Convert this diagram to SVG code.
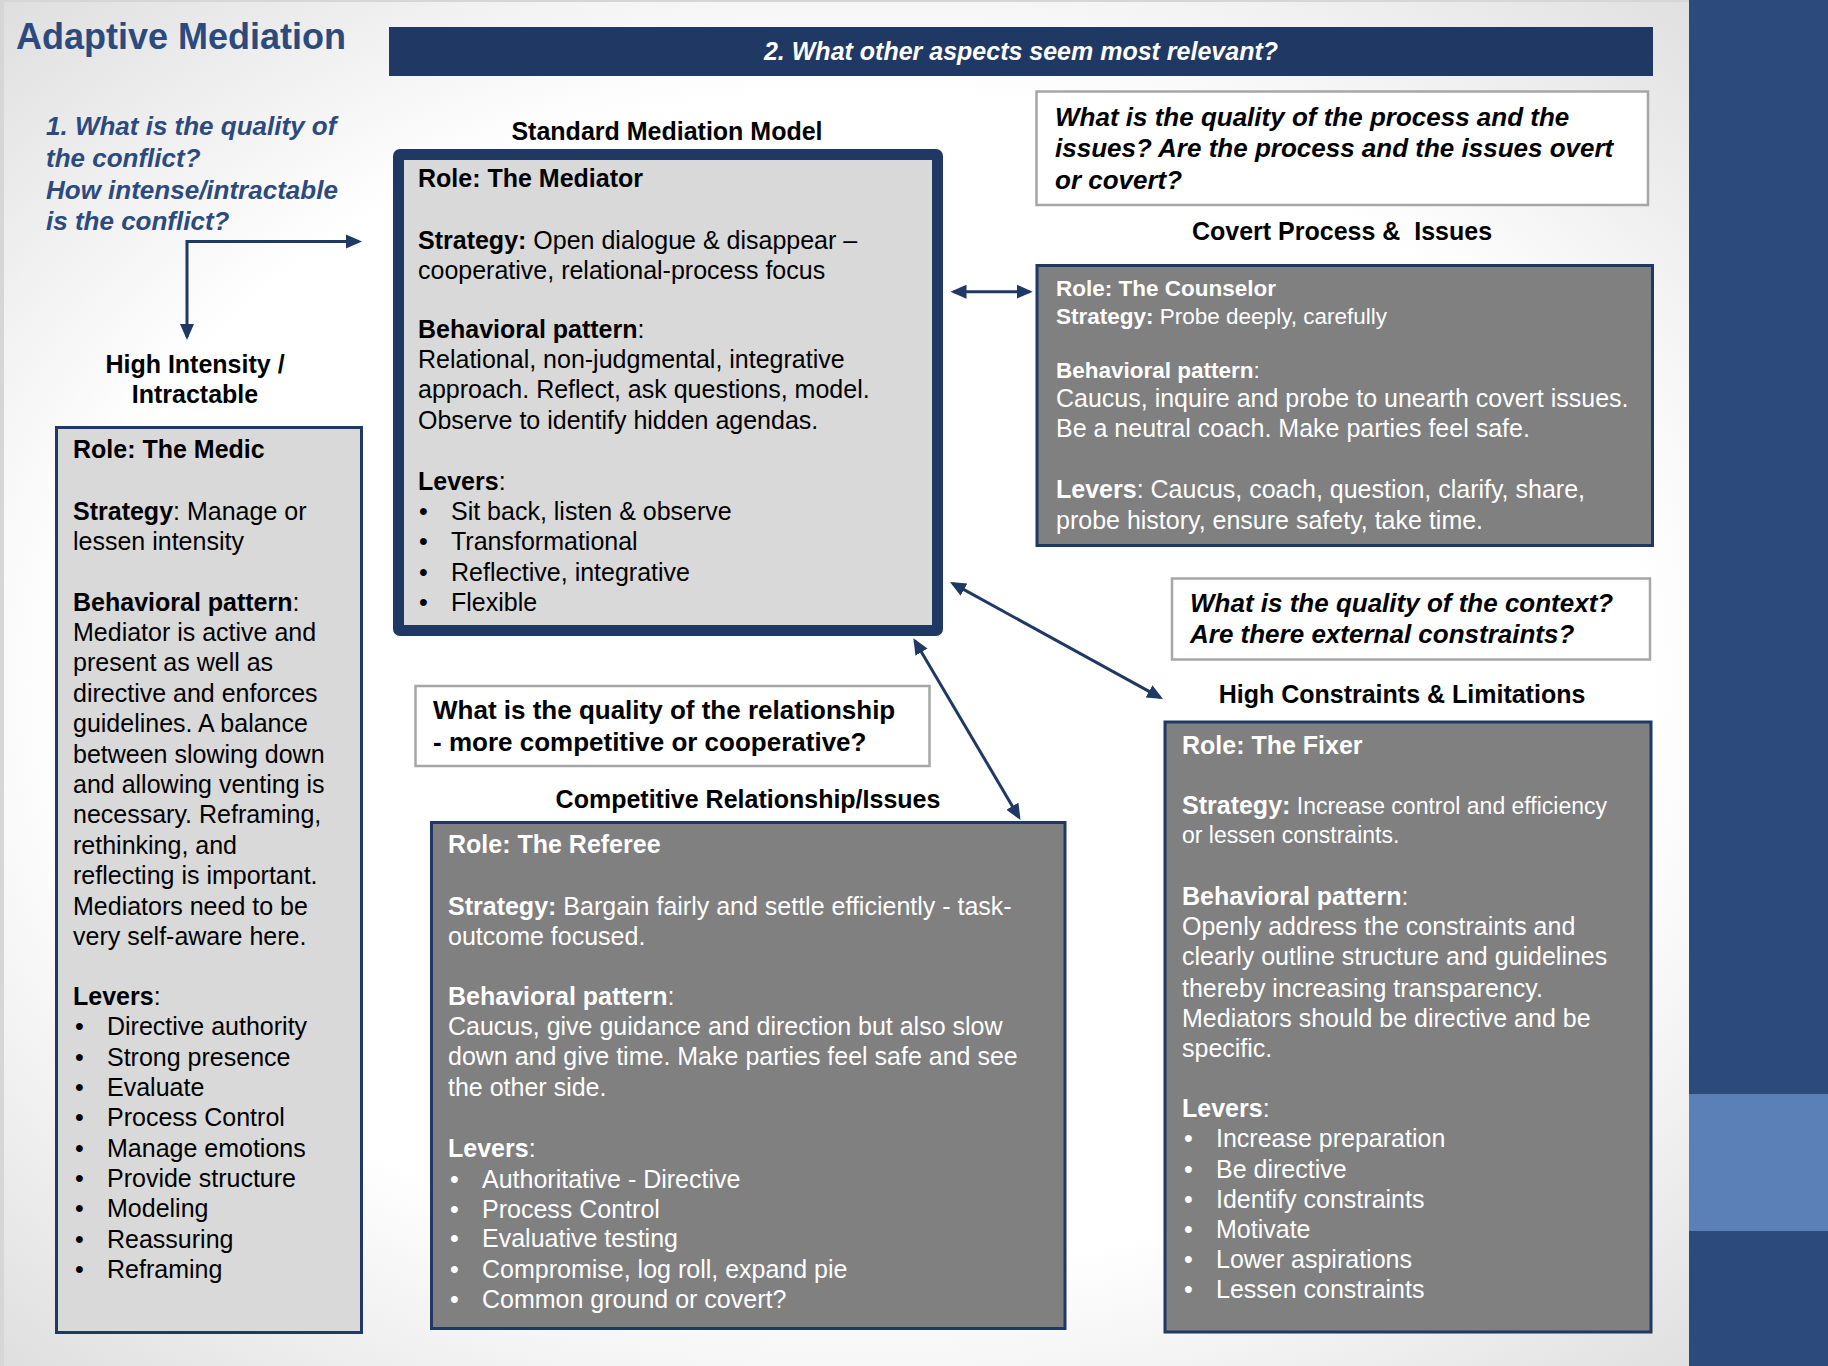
<svg xmlns="http://www.w3.org/2000/svg" width="1828" height="1366" viewBox="0 0 1828 1366">
<defs>
<radialGradient id="bg" cx="0.47" cy="0.5" r="0.72">
<stop offset="0" stop-color="#FFFFFF"/>
<stop offset="0.6" stop-color="#FFFFFF"/>
<stop offset="1" stop-color="#DADADA"/>
</radialGradient>
<marker id="ah" markerUnits="userSpaceOnUse" markerWidth="16" markerHeight="16" viewBox="0 0 16 16" refX="13" refY="8" orient="auto-start-reverse">
<path d="M0,1 L16,8 L0,15 Z" fill="#1F3864"/>
</marker>
<style>
.t{font-family:"Liberation Sans",Arial,Helvetica,sans-serif;font-size:25px;fill:#000}
.b{font-weight:bold}
.w{fill:#FFFFFF}
.s{font-size:22.5px}
.q{font-style:italic;font-weight:bold;font-size:26px}
.blue{fill:#2C4A7E}
.h{font-weight:bold;text-anchor:middle}
.light{fill:#D9D9D9;stroke:#1F3864;stroke-width:3}
.dark{fill:#808080;stroke:#1F3864;stroke-width:3}
.qbox{fill:#FFFFFF;stroke:#A6A6A6;stroke-width:2.5}
.conn{fill:none;stroke:#1F3864;stroke-width:3;marker-end:url(#ah)}
.both{marker-start:url(#ah)}
</style>
</defs>

<g id="background">
<rect x="0" y="0" width="1828" height="1366" fill="url(#bg)"/>
<rect x="0" y="0" width="4" height="1366" fill="#D6D6D6"/>
<rect x="0" y="0" width="1828" height="2" fill="#D6D6D6"/>
<rect x="1689" y="0" width="139" height="1366" fill="#2C4A7B"/>
<rect x="1689" y="1094" width="139" height="137" fill="#5B80B8"/>
</g>

<g id="title">
<text class="t b blue" x="16" y="49" style="font-size:36px">Adaptive Mediation</text>
</g>

<g id="question1">
<text class="t q blue" x="46" y="135">1. What is the quality of</text>
<text class="t q blue" x="46" y="167">the conflict?</text>
<text class="t q blue" x="46" y="199">How intense/intractable</text>
<text class="t q blue" x="46" y="230">is the conflict?</text>
</g>

<g id="question2-bar">
<rect x="389" y="27" width="1264" height="49" fill="#1F3864"/>
<text class="t q w" x="1021" y="60" text-anchor="middle" style="font-size:25px">2. What other aspects seem most relevant?</text>
</g>

<g id="standard-model">
<text class="t h" x="667" y="140">Standard Mediation Model</text>
<rect x="393" y="149" width="550" height="487" rx="7" fill="#1F3864"/>
<rect x="404" y="160" width="528" height="465" fill="#D9D9D9"/>
<text class="t b" x="418" y="187">Role: The Mediator</text>
<text class="t" x="418" y="249"><tspan class="b">Strategy:</tspan> Open dialogue &amp; disappear –</text>
<text class="t" x="418" y="279">cooperative, relational-process focus</text>
<text class="t" x="418" y="338"><tspan class="b">Behavioral pattern</tspan>:</text>
<text class="t" x="418" y="368">Relational, non-judgmental, integrative</text>
<text class="t" x="418" y="398">approach. Reflect, ask questions, model.</text>
<text class="t" x="418" y="429">Observe to identify hidden agendas.</text>
<text class="t" x="418" y="490"><tspan class="b">Levers</tspan>:</text>
<text class="t" y="520"><tspan x="419">•</tspan><tspan x="451">Sit back, listen &amp; observe</tspan></text>
<text class="t" y="550"><tspan x="419">•</tspan><tspan x="451">Transformational</tspan></text>
<text class="t" y="581"><tspan x="419">•</tspan><tspan x="451">Reflective, integrative</tspan></text>
<text class="t" y="611"><tspan x="419">•</tspan><tspan x="451">Flexible</tspan></text>
</g>

<g id="medic">
<text class="t h" x="195" y="373">High Intensity /</text>
<text class="t h" x="195" y="403">Intractable</text>
<rect class="light" x="56.5" y="427.5" width="305" height="905"/>
<text class="t b" x="73" y="458">Role: The Medic</text>
<text class="t" x="73" y="520"><tspan class="b">Strategy</tspan>: Manage or</text>
<text class="t" x="73" y="550">lessen intensity</text>
<text class="t" x="73" y="611"><tspan class="b">Behavioral pattern</tspan>:</text>
<text class="t" x="73" y="641">Mediator is active and</text>
<text class="t" x="73" y="671">present as well as</text>
<text class="t" x="73" y="702">directive and enforces</text>
<text class="t" x="73" y="732">guidelines. A balance</text>
<text class="t" x="73" y="763">between slowing down</text>
<text class="t" x="73" y="793">and allowing venting is</text>
<text class="t" x="73" y="823">necessary. Reframing,</text>
<text class="t" x="73" y="854">rethinking, and</text>
<text class="t" x="73" y="884">reflecting is important.</text>
<text class="t" x="73" y="915">Mediators need to be</text>
<text class="t" x="73" y="945">very self-aware here.</text>
<text class="t" x="73" y="1005"><tspan class="b">Levers</tspan>:</text>
<text class="t" y="1035"><tspan x="75">•</tspan><tspan x="107">Directive authority</tspan></text>
<text class="t" y="1066"><tspan x="75">•</tspan><tspan x="107">Strong presence</tspan></text>
<text class="t" y="1096"><tspan x="75">•</tspan><tspan x="107">Evaluate</tspan></text>
<text class="t" y="1126"><tspan x="75">•</tspan><tspan x="107">Process Control</tspan></text>
<text class="t" y="1157"><tspan x="75">•</tspan><tspan x="107">Manage emotions</tspan></text>
<text class="t" y="1187"><tspan x="75">•</tspan><tspan x="107">Provide structure</tspan></text>
<text class="t" y="1217"><tspan x="75">•</tspan><tspan x="107">Modeling</tspan></text>
<text class="t" y="1248"><tspan x="75">•</tspan><tspan x="107">Reassuring</tspan></text>
<text class="t" y="1278"><tspan x="75">•</tspan><tspan x="107">Reframing</tspan></text>
</g>

<g id="process-question">
<rect class="qbox" x="1036.5" y="91.5" width="611.5" height="113.5"/>
<text class="t q" x="1055" y="126">What is the quality of the process and the</text>
<text class="t q" x="1055" y="157">issues? Are the process and the issues overt</text>
<text class="t q" x="1055" y="189">or covert?</text>
</g>

<g id="counselor">
<text class="t h" x="1342" y="240">Covert Process &amp;&#160; Issues</text>
<rect class="dark" x="1037" y="265.5" width="615.5" height="280"/>
<text class="t b w s" x="1056" y="296">Role: The Counselor</text>
<text class="t w s" x="1056" y="324"><tspan class="b">Strategy:</tspan> Probe deeply, carefully</text>
<text class="t w s" x="1056" y="378"><tspan class="b">Behavioral pattern</tspan>:</text>
<text class="t w" x="1056" y="407">Caucus, inquire and probe to unearth covert issues.</text>
<text class="t w" x="1056" y="437">Be a neutral coach. Make parties feel safe.</text>
<text class="t w" x="1056" y="498"><tspan class="b">Levers</tspan>: Caucus, coach, question, clarify, share,</text>
<text class="t w" x="1056" y="529">probe history, ensure safety, take time.</text>
</g>

<g id="context-question">
<rect class="qbox" x="1172" y="578.5" width="478" height="81"/>
<text class="t q" x="1190" y="612">What is the quality of the context?</text>
<text class="t q" x="1190" y="643">Are there external constraints?</text>
</g>

<g id="fixer">
<text class="t h" x="1402" y="703">High Constraints &amp; Limitations</text>
<rect class="dark" x="1165" y="722" width="486" height="610"/>
<text class="t b w" x="1182" y="754">Role: The Fixer</text>
<text class="t w" x="1182" y="814"><tspan class="b">Strategy:</tspan><tspan style="font-size:23px"> Increase control and efficiency</tspan></text>
<text class="t w" x="1182" y="843" style="font-size:23px">or lessen constraints.</text>
<text class="t w" x="1182" y="905"><tspan class="b">Behavioral pattern</tspan>:</text>
<text class="t w" x="1182" y="935">Openly address the constraints and</text>
<text class="t w" x="1182" y="965">clearly outline structure and guidelines</text>
<text class="t w" x="1182" y="997">thereby increasing transparency.</text>
<text class="t w" x="1182" y="1027">Mediators should be directive and be</text>
<text class="t w" x="1182" y="1057">specific.</text>
<text class="t w" x="1182" y="1117"><tspan class="b">Levers</tspan>:</text>
<text class="t w" y="1147"><tspan x="1184">•</tspan><tspan x="1216">Increase preparation</tspan></text>
<text class="t w" y="1178"><tspan x="1184">•</tspan><tspan x="1216">Be directive</tspan></text>
<text class="t w" y="1208"><tspan x="1184">•</tspan><tspan x="1216">Identify constraints</tspan></text>
<text class="t w" y="1238"><tspan x="1184">•</tspan><tspan x="1216">Motivate</tspan></text>
<text class="t w" y="1268"><tspan x="1184">•</tspan><tspan x="1216">Lower aspirations</tspan></text>
<text class="t w" y="1298"><tspan x="1184">•</tspan><tspan x="1216">Lessen constraints</tspan></text>
</g>

<g id="relationship-question">
<rect class="qbox" x="415.5" y="686" width="514" height="80"/>
<text class="t b" x="433" y="719" style="font-size:26px">What is the quality of the relationship</text>
<text class="t b" x="433" y="751" style="font-size:26px">- more competitive or cooperative?</text>
</g>

<g id="referee">
<text class="t h" x="748" y="808">Competitive Relationship/Issues</text>
<rect class="dark" x="431.5" y="822.5" width="633.5" height="506"/>
<text class="t b w" x="448" y="853">Role: The Referee</text>
<text class="t w" x="448" y="915"><tspan class="b">Strategy:</tspan> Bargain fairly and settle efficiently - task-</text>
<text class="t w" x="448" y="945">outcome focused.</text>
<text class="t w" x="448" y="1005"><tspan class="b">Behavioral pattern</tspan>:</text>
<text class="t w" x="448" y="1035">Caucus, give guidance and direction but also slow</text>
<text class="t w" x="448" y="1065">down and give time. Make parties feel safe and see</text>
<text class="t w" x="448" y="1096">the other side.</text>
<text class="t w" x="448" y="1157"><tspan class="b">Levers</tspan>:</text>
<text class="t w" y="1188"><tspan x="450">•</tspan><tspan x="482">Authoritative - Directive</tspan></text>
<text class="t w" y="1218"><tspan x="450">•</tspan><tspan x="482">Process Control</tspan></text>
<text class="t w" y="1247"><tspan x="450">•</tspan><tspan x="482">Evaluative testing</tspan></text>
<text class="t w" y="1278"><tspan x="450">•</tspan><tspan x="482">Compromise, log roll, expand pie</tspan></text>
<text class="t w" y="1308"><tspan x="450">•</tspan><tspan x="482">Common ground or covert?</tspan></text>
</g>

<g id="connectors">
<path class="conn both" d="M187,337 V241.5 H359"/>
<path class="conn both" d="M953.5,291.7 H1029.7"/>
<path class="conn both" d="M952.6,583.4 L1160.4,697.6"/>
<path class="conn both" d="M914.9,640.9 L1019,817.4"/>
</g>
</svg>
